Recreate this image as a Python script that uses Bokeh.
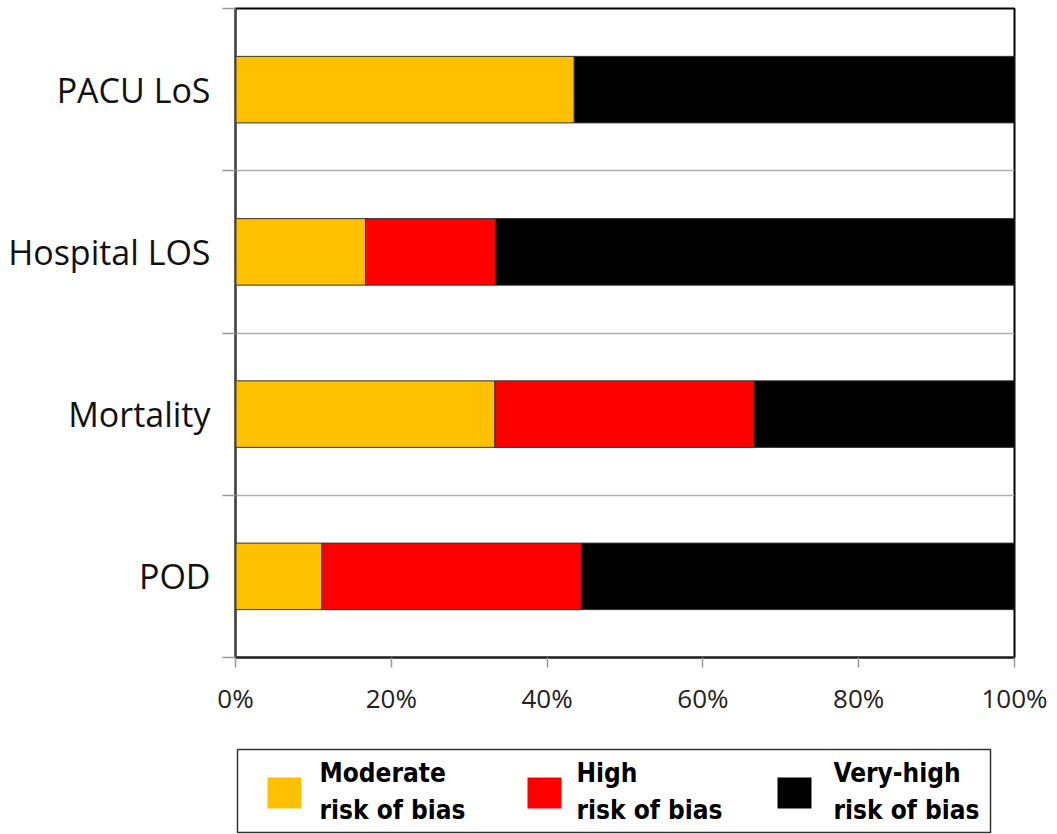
from bokeh.plotting import figure
from bokeh.models import ColumnDataSource, Range1d, FixedTicker, PrintfTickFormatter
from bokeh.layouts import column
from bokeh.embed import file_html
from bokeh.resources import INLINE
from bokeh.core.properties import value

# ---- data (percent of studies) ----
categories = ["POD", "Mortality", "Hospital LOS", "PACU LoS"]
moderate = [11.1, 33.3, 16.7, 43.5]
high = [33.3, 33.3, 16.7, 0.0]
very_high = [55.6, 33.4, 66.6, 56.5]
series = ["moderate", "high", "very_high"]
series_labels = [("Moderate", "risk of bias"), ("High", "risk of bias"), ("Very-high", "risk of bias")]
colors = ["#FFC000", "#FF0000", "#000000"]
x_ticks = [0, 20, 40, 60, 80, 100]

ypos = [i + 0.5 for i in range(len(categories))]
src = ColumnDataSource(dict(y=ypos, moderate=moderate, high=high, very_high=very_high))

FR_L, FR_R, FR_T, FR_B = 235, 1014, 8, 657
W = 1050

p = figure(width=W, height=738, x_range=Range1d(0, 100), y_range=Range1d(0, len(categories)),
           output_backend="svg", toolbar_location=None,
           min_border_left=FR_L, min_border_right=W - FR_R, min_border_top=FR_T,
           min_border_bottom=738 - FR_B)

p.hbar_stack(series, y="y", height=0.41, fill_color=colors, line_color="#333333",
             line_width=1, source=src)

p.xaxis.ticker = FixedTicker(ticks=x_ticks)
p.xaxis.formatter = PrintfTickFormatter(format="%d%%")
p.xaxis.major_tick_out = 10
p.xaxis.major_tick_in = 0
p.xaxis.major_tick_line_color = "#999999"
p.xaxis.major_tick_line_width = 1.5
p.xaxis.minor_tick_line_color = None
p.xaxis.axis_line_color = "#222222"
p.xaxis.axis_line_width = 2
p.xaxis.major_label_text_font = "Open Sans"
p.xaxis.major_label_text_font_size = "26px"
p.xaxis.major_label_text_color = "#222222"
p.xaxis.major_label_standoff = 12

p.yaxis.ticker = FixedTicker(ticks=ypos, minor_ticks=list(range(len(categories) + 1)))
p.yaxis.major_label_overrides = {y: c for y, c in zip(ypos, categories)}
p.yaxis.major_tick_line_color = None
p.yaxis.major_tick_out = 13
p.yaxis.minor_tick_out = 13
p.yaxis.minor_tick_in = 0
p.yaxis.minor_tick_line_color = "#999999"
p.yaxis.minor_tick_line_width = 1.5
p.yaxis.axis_line_color = "#444444"
p.yaxis.axis_line_width = 2
p.yaxis.major_label_text_font = "Open Sans"
p.yaxis.major_label_text_font_size = "34px"
p.yaxis.major_label_text_color = "#111111"
p.yaxis.major_label_standoff = 12

p.xgrid.visible = False
p.ygrid.ticker = FixedTicker(ticks=list(range(1, len(categories))))
p.ygrid.grid_line_color = "#b0b0b0"
p.ygrid.grid_line_width = 1.5
p.outline_line_color = "black"
p.outline_line_width = 2
p.background_fill_color = "white"

# ---- legend (separate strip below; data coords = page pixels) ----
LH = 96
lg = figure(width=W, height=LH, x_range=Range1d(FR_L, FR_R), y_range=Range1d(LH, 0),
            output_backend="svg", toolbar_location=None, x_axis_type=None, y_axis_type=None,
            min_border_left=FR_L, min_border_right=W - FR_R, min_border_top=0, min_border_bottom=0)
lg.xgrid.visible = False
lg.ygrid.visible = False
lg.outline_line_color = None

lg.quad(left=[237], right=[990], top=[11], bottom=[94], fill_color="white",
        line_color="#333333", line_width=1.5)

sw_x = [267, 527, 777]
tx_x = [319, 576, 833]
lg.quad(left=sw_x, right=[x + 34 for x in sw_x], top=[39] * 3, bottom=[70] * 3,
        fill_color=colors, line_color=None)
font = value("DejaVu Sans Condensed")
lg.text(x=tx_x, y=[34] * 3, text=[s[0] for s in series_labels],
        text_font=font, text_font_style="bold",
        text_font_size="26px", text_baseline="middle", text_color="black")
lg.text(x=tx_x, y=[71] * 3, text=[s[1] for s in series_labels],
        text_font=font, text_font_style="bold",
        text_font_size="26px", text_baseline="middle", text_color="black")

layout = column(p, lg, spacing=0)
open("out.html", "w").write(file_html(layout, INLINE))
